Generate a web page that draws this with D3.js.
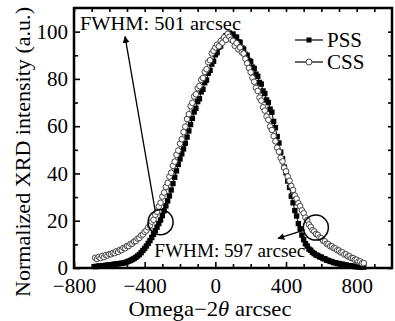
<!DOCTYPE html>
<html>
<head>
<meta charset="utf-8">
<script src="https://cdn.jsdelivr.net/npm/d3@7"></script>
<style>
  body { margin: 0; background: #fff; }
  text { font-family: "Liberation Serif", "Times New Roman", serif; fill: #000; }
</style>
</head>
<body>
<div id="chart"></div>
<script>
// omega-2theta positions (arcsec)
var angle = [
  -680, -670, -660, -650, -640, -630, -620, -610, -600, -590,
  -580, -570, -560, -550, -540, -530, -520, -510, -500, -490,
  -480, -470, -460, -450, -440, -430, -420, -410, -400, -390,
  -380, -370, -360, -350, -340, -330, -320, -310, -300, -290,
  -280, -270, -260, -250, -240, -230, -220, -210, -200, -190,
  -180, -170, -160, -150, -140, -130, -120, -110, -100, -90,
  -80, -70, -60, -50, -40, -30, -20, -10, 0, 10,
  20, 30, 40, 50, 60, 70, 80, 90, 100, 110,
  120, 130, 140, 150, 160, 170, 180, 190, 200, 210,
  220, 230, 240, 250, 260, 270, 280, 290, 300, 310,
  320, 330, 340, 350, 360, 370, 380, 390, 400, 410,
  420, 430, 440, 450, 460, 470, 480, 490, 500, 510,
  520, 530, 540, 550, 560, 570, 580, 590, 600, 610,
  620, 630, 640, 650, 660, 670, 680, 690, 700, 710,
  720, 730, 740, 750, 760, 770, 780, 790, 800, 810,
  820, 830, 840
];

// normalized intensity, PSS
var pss = [
  0.6, 0.7, 0.8, 0.8, 0.9, 1.0, 1.1, 1.2, 1.3, 1.4,
  1.5, 1.6, 1.7, 1.8, 1.9, 2.0, 2.1, 2.3, 2.6, 2.9,
  3.2, 3.6, 4.0, 4.5, 5.1, 5.7, 6.5, 7.4, 8.3, 9.3,
  10.4, 11.6, 12.9, 14.3, 15.8, 17.3, 18.8, 20.3, 22.2, 24.2,
  26.3, 28.4, 30.5, 33.0, 35.7, 38.4, 41.1, 43.8, 46.1, 48.3,
  50.4, 52.8, 55.4, 58.0, 60.7, 63.3, 66.0, 67.6, 70.4, 71.6,
  74.5, 75.6, 78.4, 79.5, 82.4, 83.6, 86.3, 87.5, 90.2, 91.1,
  93.4, 93.9, 96.3, 96.4, 98.3, 98.0, 99.4, 98.6, 99.0, 97.6,
  97.7, 95.7, 95.5, 93.1, 92.6, 90.4, 90.0, 87.8, 87.4, 85.0,
  84.4, 82.0, 81.1, 78.5, 77.8, 74.9, 73.8, 71.1, 70.0, 67.2,
  65.9, 62.0, 59.4, 55.6, 52.9, 49.0, 46.3, 42.7, 40.3, 36.8,
  34.1, 30.4, 27.6, 24.3, 22.0, 18.8, 16.6, 13.9, 12.0, 10.3,
  9.3, 8.0, 7.5, 6.6, 6.1, 5.5, 5.3, 4.7, 4.6, 4.0,
  3.9, 3.3, 3.2, 2.8, 2.7, 2.3, 2.2, 1.9, 1.9, 1.6,
  1.6, 1.3, 1.3, 1.0, 1.0, 0.8, 0.8, 0.6, 0.6, 0.5,
  0.5, 0.4, 0.4
];

// normalized intensity, CSS
var css = [
  4.3, 3.8, 4.7, 4.2, 5.1, 4.6, 5.5, 5.3, 5.9, 5.8,
  6.4, 6.3, 7.1, 6.8, 7.7, 7.6, 8.5, 8.4, 9.3, 9.3,
  10.2, 10.3, 11.2, 11.4, 12.4, 12.7, 13.8, 14.2, 15.3, 15.9,
  17.2, 18.0, 19.6, 20.4, 22.5, 23.8, 26.0, 27.6, 30.2, 31.9,
  34.3, 36.0, 38.7, 40.3, 43.2, 45.0, 47.9, 49.7, 52.6, 54.5,
  57.5, 59.8, 63.0, 65.1, 68.5, 69.9, 72.6, 73.5, 76.1, 77.0,
  79.6, 80.4, 83.0, 84.1, 87.1, 87.9, 90.8, 91.9, 93.3, 94.5,
  93.8, 96.0, 95.3, 97.6, 96.6, 99.1, 97.8, 96.6, 96.1, 94.0,
  95.1, 92.5, 93.3, 91.2, 90.7, 88.5, 86.6, 84.6, 82.8, 80.5,
  78.8, 76.2, 74.9, 72.1, 70.8, 68.0, 66.6, 64.1, 62.7, 59.9,
  58.4, 55.8, 53.6, 50.9, 49.2, 46.6, 45.1, 42.4, 40.9, 38.7,
  36.9, 34.7, 33.0, 30.7, 29.3, 27.4, 26.2, 24.4, 23.2, 21.3,
  20.2, 18.4, 17.4, 16.0, 15.5, 14.4, 14.0, 12.9, 12.6, 11.5,
  11.3, 10.2, 10.1, 9.2, 9.2, 8.4, 8.3, 7.5, 7.4, 6.6,
  6.6, 5.7, 5.8, 4.9, 5.0, 4.2, 4.2, 3.5, 3.5, 2.7,
  2.8, 2.0, 2.1
];

var seriesNames = ["PSS", "CSS"];
var xTicks = [-800, -400, 0, 400, 800];
var xMinorTicks = [-700, -600, -500, -300, -200, -100, 100, 200, 300, 500, 600, 700, 900];
var yTicks = [0, 20, 40, 60, 80, 100];
var yMinorTicks = [10, 30, 50, 70, 90];

var W = 395, H = 321;
var box = {left: 74, right: 392, top: 8, bottom: 268};

var svg = d3.select("#chart")
  .append("svg")
    .attr("width", W)
    .attr("height", H);

var x = d3.scaleLinear().domain([-800, 1000]).range([box.left, box.right]);
var y = d3.scaleLinear().domain([0, 110]).range([box.bottom, box.top]);

var n = Math.min(angle.length, pss.length, css.length);
var pssPts = [], cssPts = [];
for (var i = 0; i < n; i++) {
  pssPts.push({a: angle[i], v: pss[i]});
  cssPts.push({a: angle[i], v: css[i]});
}

// arrow head
svg.append("defs").append("marker")
    .attr("id", "head")
    .attr("viewBox", "0 0 10 10")
    .attr("refX", 9).attr("refY", 5)
    .attr("markerWidth", 7).attr("markerHeight", 7)
    .attr("markerUnits", "userSpaceOnUse")
    .attr("orient", "auto")
  .append("path")
    .attr("d", "M0,0 L10,5 L0,10 z")
    .attr("fill", "#000");

// axes (ticks pointing inward)
function styleAxis(g) {
  g.select(".domain").remove();
  g.selectAll(".tick line").attr("stroke", "#000").attr("stroke-width", 1.6);
  g.selectAll(".tick text")
    .style("font-family", '"Liberation Serif", "Times New Roman", serif')
    .style("font-size", "21px");
}

svg.append("g")
    .attr("transform", "translate(0," + box.bottom + ")")
    .call(d3.axisBottom(x).tickValues(xMinorTicks).tickSize(-4).tickFormat(""))
    .call(styleAxis);
svg.append("g")
    .attr("transform", "translate(0," + box.bottom + ")")
    .call(d3.axisBottom(x).tickValues(xTicks).tickSize(-6).tickPadding(10))
    .call(styleAxis);

svg.append("g")
    .attr("transform", "translate(" + box.left + ",0)")
    .call(d3.axisLeft(y).tickValues(yMinorTicks).tickSize(-4).tickFormat(""))
    .call(styleAxis);
svg.append("g")
    .attr("transform", "translate(" + box.left + ",0)")
    .call(d3.axisLeft(y).tickValues(yTicks).tickSize(-6).tickPadding(6))
    .call(styleAxis);

// mirrored ticks on top and right
svg.append("g")
    .attr("transform", "translate(0," + box.top + ")")
    .call(d3.axisTop(x).tickValues(xTicks.concat(xMinorTicks)).tickSize(-4).tickFormat(""))
    .call(styleAxis);
svg.append("g")
    .attr("transform", "translate(" + box.right + ",0)")
    .call(d3.axisRight(y).tickValues(yTicks.concat(yMinorTicks)).tickSize(-4).tickFormat(""))
    .call(styleAxis);

// series
var line = d3.line()
  .x(function(d) { return x(d.a); })
  .y(function(d) { return y(d.v); });

svg.append("path").datum(pssPts)
    .attr("d", line).attr("fill", "none")
    .attr("stroke", "#000").attr("stroke-width", 1);

svg.append("g").selectAll("rect")
  .data(pssPts)
  .enter()
  .append("rect")
    .attr("x", function(d) { return x(d.a) - 2.7; })
    .attr("y", function(d) { return y(d.v) - 2.7; })
    .attr("width", 5.4).attr("height", 5.4)
    .attr("fill", "#000");

svg.append("path").datum(cssPts)
    .attr("d", line).attr("fill", "none")
    .attr("stroke", "#444").attr("stroke-width", 0.8);

svg.append("g").selectAll("circle")
  .data(cssPts)
  .enter()
  .append("circle")
    .attr("cx", function(d) { return x(d.a); })
    .attr("cy", function(d) { return y(d.v); })
    .attr("r", 2.8)
    .attr("fill", "#fff")
    .attr("stroke", "#444")
    .attr("stroke-width", 1);

// frame
svg.append("rect")
    .attr("x", box.left).attr("y", box.top)
    .attr("width", box.right - box.left).attr("height", box.bottom - box.top)
    .attr("fill", "none").attr("stroke", "#000").attr("stroke-width", 2.5);

// annotations (placed in data units)
var rings = [{a: -310, v: 19.4}, {a: 569, v: 17.1}];
svg.append("g").selectAll("circle")
  .data(rings)
  .enter()
  .append("circle")
    .attr("cx", function(d) { return x(d.a); })
    .attr("cy", function(d) { return y(d.v); })
    .attr("r", 12.5)
    .attr("fill", "none").attr("stroke", "#000").attr("stroke-width", 1.5);

var arrows = [
  {a0: -341, v0: 24.5, a1: -511, v1: 97.9},
  {a0: 507, v0: 16.1, a1: 355, v1: 12.5}
];
svg.append("g").selectAll("line")
  .data(arrows)
  .enter()
  .append("line")
    .attr("x1", function(d) { return x(d.a0); })
    .attr("y1", function(d) { return y(d.v0); })
    .attr("x2", function(d) { return x(d.a1); })
    .attr("y2", function(d) { return y(d.v1); })
    .attr("stroke", "#000").attr("stroke-width", 1.3)
    .attr("marker-end", "url(#head)");

var notes = [
  {text: "FWHM: 501 arcsec", a: -766, v: 100.7, len: 161},
  {text: "FWHM: 597 arcsec", a: -345, v: 4.7, len: 151}
];
svg.append("g").selectAll("text")
  .data(notes)
  .enter()
  .append("text")
    .attr("x", function(d) { return x(d.a); })
    .attr("y", function(d) { return y(d.v); })
    .attr("textLength", function(d) { return d.len; })
    .attr("lengthAdjust", "spacingAndGlyphs")
    .style("font-size", "18px")
    .text(function(d) { return d.text; });

// legend
var legend = svg.append("g").selectAll("g")
  .data(seriesNames)
  .enter()
  .append("g")
    .attr("transform", function(d, i) { return "translate(295," + (40 + i * 22) + ")"; });
legend.append("line")
    .attr("x1", 0).attr("x2", 28)
    .attr("stroke", "#000").attr("stroke-width", 1.2);
legend.filter(function(d, i) { return i === 0; })
  .append("rect")
    .attr("x", 11.5).attr("y", -2.5).attr("width", 5).attr("height", 5)
    .attr("fill", "#000");
legend.filter(function(d, i) { return i === 1; })
  .append("circle")
    .attr("cx", 14).attr("r", 3)
    .attr("fill", "#fff").attr("stroke", "#444").attr("stroke-width", 1);
legend.append("text")
    .attr("x", 32).attr("y", 7)
    .style("font-size", "21px")
    .text(function(d) { return d; });

// axis titles
var xt = svg.append("text")
    .attr("x", 210).attr("y", 316)
    .attr("text-anchor", "middle")
    .attr("textLength", 163)
    .attr("lengthAdjust", "spacingAndGlyphs")
    .style("font-size", "21px");
xt.append("tspan").text("Omega\u22122");
xt.append("tspan").style("font-style", "italic").text("\u03b8");
xt.append("tspan").text(" arcsec");

svg.append("text")
    .attr("transform", "translate(30,152) rotate(-90)")
    .attr("text-anchor", "middle")
    .attr("textLength", 290)
    .attr("lengthAdjust", "spacingAndGlyphs")
    .style("font-size", "21px")
    .text("Normalized XRD intensity (a.u.)");
</script>
</body>
</html>
